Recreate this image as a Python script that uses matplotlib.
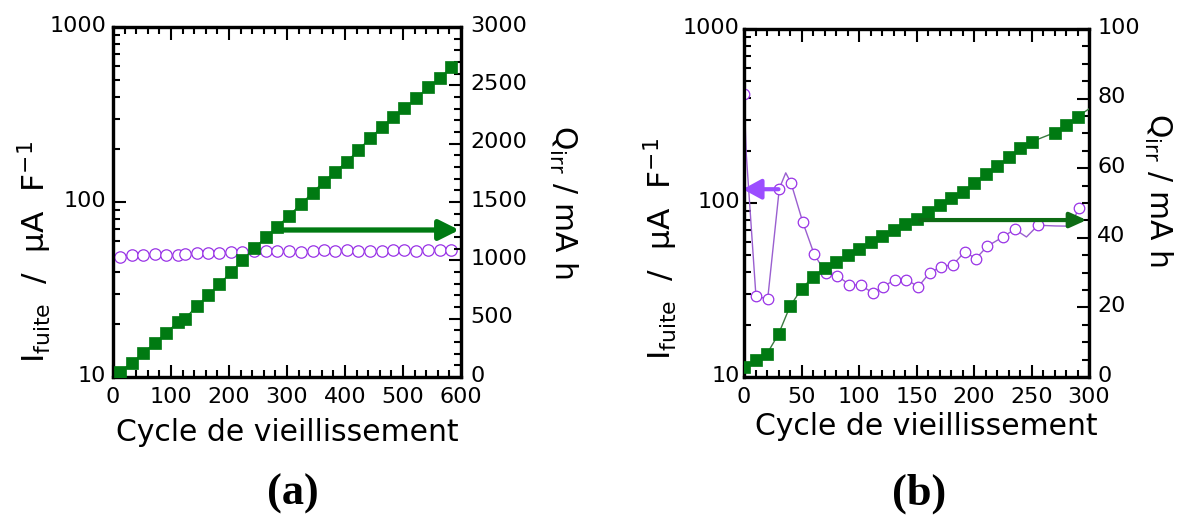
import matplotlib
matplotlib.use('Agg')
import matplotlib.pyplot as plt
from matplotlib.ticker import MultipleLocator, LogLocator, NullFormatter, FuncFormatter
from matplotlib.transforms import ScaledTranslation
import numpy as np

plt.rcParams['font.family'] = ['DejaVu Sans']
plt.rcParams['mathtext.default'] = 'regular'

# ---------------- data ----------------
# panel (a)
cycles_a = [12, 32, 52, 72, 92, 112, 124, 144, 164, 183, 203, 223, 243, 263, 283,
            303, 324, 344, 363, 383, 403, 423, 443, 463, 482, 502, 523, 543, 563, 583]
q_irr_a = [43, 123, 206, 292, 381, 472, 501, 607, 701, 796, 896, 1002, 1102, 1197, 1288,
           1383, 1483, 1580, 1674, 1760, 1846, 1946, 2047, 2141, 2227, 2304, 2390, 2482, 2562, 2656]
i_fuite_a = [48.4, 49.9, 49.9, 50.5, 50.1, 49.5, 50.5, 50.9, 51.4, 51.4, 51.6, 51.8, 52.7, 52.7, 52.2,
             52.2, 52.0, 52.2, 53.1, 52.7, 53.1, 52.7, 52.7, 52.7, 53.1, 53.1, 52.7, 53.1, 53.1, 53.1]

# panel (b)
cycles_b_q = [0, 10, 20, 30, 40, 50, 60, 70, 80, 90, 100, 110, 120, 130, 140, 150, 160,
              170, 180, 190, 200, 210, 220, 230, 240, 250, 270, 280, 290, 302]
q_irr_b = [2.9, 5.0, 6.7, 12.3, 20.3, 25.3, 28.8, 31.2, 33.1, 35.0, 36.9, 38.8, 40.6, 42.2,
           44.1, 45.5, 47.5, 49.4, 51.3, 53.2, 55.8, 58.3, 60.6, 63.1, 65.7, 67.6, 70.2, 72.4, 74.8, 77.5]
q_marker_idx_b = list(range(29))

cycles_b_i = [0, 2, 10.4, 20.6, 30.7, 36.3, 40.8, 51, 61.1, 71.2, 81.3, 91.5, 101.7, 111.8, 121.1,
              131.2, 141.3, 151.5, 161.6, 171.7, 181.9, 192, 201.6, 211.7, 225.3, 235.4, 245.6,
              255.7, 271, 283.5, 291.3]
i_fuite_b = [421, 190, 29.1, 28.1, 121, 149, 131, 78, 50.6, 39.6, 38.1, 34.0, 33.6, 30.5, 33.0,
             36.3, 36.3, 33.0, 39.8, 43.0, 44.3, 52.4, 47.9, 56.5, 63.9, 70.7, 63.8, 74.5, 73.8, 73.6, 93.0]
i_marker_idx_b = [0, 2, 3, 4, 6, 7, 8, 9, 10, 11, 12, 13, 14, 15, 16, 17, 18, 19, 20, 21, 22, 23,
                  24, 25, 27, 30]

# arrows (data coords)
arrow_a = ((290, 1260), (597, 1260))          # right axis
arrow_b_green = ((153, 45.1), (298, 45.1))    # right axis
arrow_b_purple = ((30, 120), (-1, 120))       # left axis

GREEN = '#007a12'
GREEN_DARK = '#0d6b14'
PURPLE = '#9933e6'
PURPLE_LINE = '#9a5fd0'
PURPLE_ARROW = '#9b4dff'

W, H = 1183, 515
fig = plt.figure(figsize=(W / 100, H / 100), dpi=100)


def px_axes(l, t, r, b):
    return fig.add_axes([l / W, 1 - b / H, (r - l) / W, (b - t) / H])


def style(ax, ax2, xmax, xmaj, xmin, y2max, y2maj, y2min, lpad, rpad):
    ax.set_yscale('log')
    ax.set_ylim(10, 1000)
    ax.set_xlim(0, xmax)
    ax.xaxis.set_major_locator(MultipleLocator(xmaj))
    ax.xaxis.set_minor_locator(MultipleLocator(xmin))
    ax.yaxis.set_major_locator(LogLocator(base=10, numticks=10))
    ax.yaxis.set_minor_locator(LogLocator(base=10, subs=np.arange(2, 10), numticks=10))
    ax.yaxis.set_minor_formatter(NullFormatter())
    ax.yaxis.set_major_formatter(FuncFormatter(lambda v, p: f'{v:g}'))
    ax2.set_ylim(0, y2max)
    ax2.yaxis.set_major_locator(MultipleLocator(y2maj))
    ax2.yaxis.set_minor_locator(MultipleLocator(y2min))
    for a in (ax, ax2):
        a.tick_params(which='both', direction='in', labelsize=16, width=1.5)
        a.tick_params(which='major', length=9)
        a.tick_params(which='minor', length=5)
        for s in a.spines.values():
            s.set_linewidth(2.3)
    ax.tick_params(axis='x', which='both', top=True, bottom=True, pad=7)
    ax.tick_params(axis='y', which='both', left=True, right=False, pad=lpad)
    ax2.tick_params(axis='y', which='both', left=False, right=True, pad=rpad)
    up = ScaledTranslation(0, 2.5 / 72, fig.dpi_scale_trans)
    for lab in ax.get_yticklabels() + ax2.get_yticklabels():
        lab.set_transform(lab.get_transform() + up)


def arrow(ax, start, end, color, lw, hl, hw, z=3):
    ax.annotate('', xy=end, xytext=start,
                arrowprops=dict(arrowstyle=f'-|>,head_length={hl},head_width={hw}',
                                mutation_scale=10, lw=lw, color=color,
                                shrinkA=0, shrinkB=0),
                annotation_clip=False, zorder=z)


# ---------------- panel (a) ----------------
ax_a = px_axes(113, 27, 461, 377)
ax_a2 = ax_a.twinx()
style(ax_a, ax_a2, 600, 100, 20, 3000, 500, 100, 5, 7)
ax_a.plot(cycles_a, i_fuite_a, '-', color=PURPLE_LINE, lw=0.8, marker='o', ms=8.2,
          mfc='white', mec=PURPLE, mew=0.9, zorder=3)
ax_a2.plot(cycles_a, q_irr_a, '-', color=GREEN, lw=0.8, marker='s', ms=8.4,
           mfc=GREEN, mec=GREEN, mew=0.5, zorder=3)
arrow(ax_a2, arrow_a[0], arrow_a[1], GREEN, 3.8, 1.2, 0.6, z=2)

# ---------------- panel (b) ----------------
ax_b = px_axes(744, 29, 1089, 377)
ax_b2 = ax_b.twinx()
style(ax_b, ax_b2, 300, 50, 10, 100, 20, 5, 3, 6)
ax_b.plot(cycles_b_i, i_fuite_b, '-', color=PURPLE_LINE, lw=1.0, marker='o', ms=7.6,
          mfc='white', mec=PURPLE, mew=0.9, markevery=i_marker_idx_b, zorder=3)
arrow(ax_b, arrow_b_purple[0], arrow_b_purple[1], PURPLE_ARROW, 3.0, 1.1, 0.6, z=4)
ax_b2.plot(cycles_b_q, q_irr_b, '-', color='#3a7a40', lw=1.0, marker='s', ms=8.4,
           mfc=GREEN, mec=GREEN, mew=0.5, markevery=q_marker_idx_b, zorder=3)
arrow(ax_b2, arrow_b_green[0], arrow_b_green[1], GREEN_DARK, 3.0, 1.0, 0.45, z=4)

# ---------------- labels ----------------
ylab = r'I$_{fuite}$  /  µA  F$^{-1}$'
q_lab = r'Q$_{irr}$ / mA h'
fig.text(35 / W, 1 - 252 / H, ylab, rotation=90, fontsize=22.5, ha='center', va='center')
fig.text(661 / W, 1 - 249 / H, ylab, rotation=90, fontsize=22.5, ha='center', va='center')
fig.text(563 / W, 1 - 202 / H, q_lab, rotation=270, fontsize=21.5, ha='center', va='center')
fig.text(1158 / W, 1 - 190 / H, q_lab, rotation=270, fontsize=21.5, ha='center', va='center')

fig.text(287.5 / W, 1 - 441 / H, 'Cycle de vieillissement', fontsize=21.5,
         ha='center', va='baseline')
fig.text(926 / W, 1 - 435 / H, 'Cycle de vieillissement', fontsize=21.5,
         ha='center', va='baseline')

fig.text(293 / W, 1 - 505 / H, '(a)', fontsize=32, fontweight='bold',
         family='Liberation Serif', ha='center', va='baseline')
fig.text(919 / W, 1 - 505 / H, '(b)', fontsize=32, fontweight='bold',
         family='Liberation Serif', ha='center', va='baseline')

fig.savefig('out.png', dpi=100)
